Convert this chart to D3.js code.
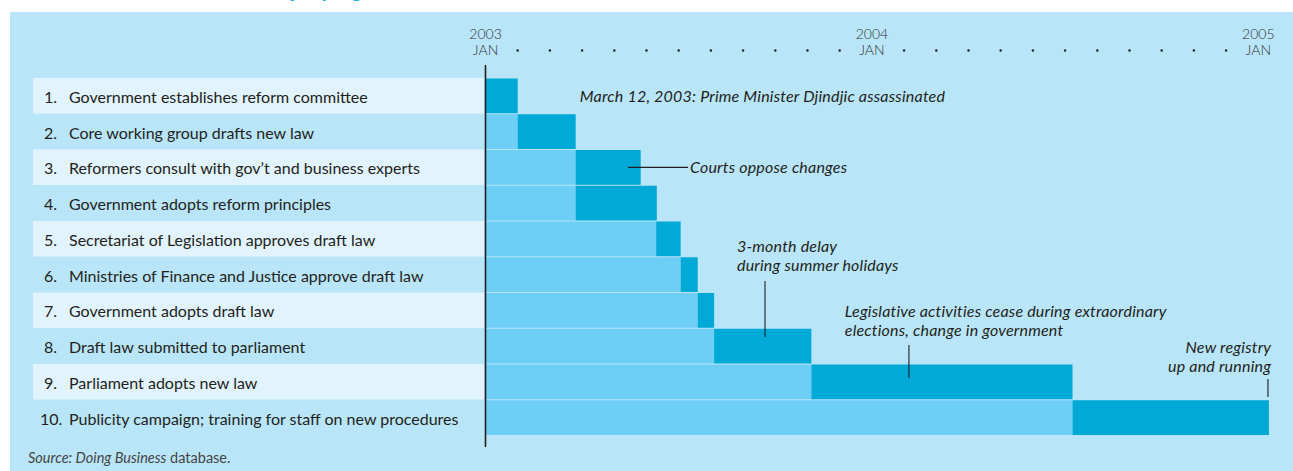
<!DOCTYPE html>
<meta charset="utf-8">
<head>
<script src="https://cdnjs.cloudflare.com/ajax/libs/d3/7.8.5/d3.min.js"></script>
<style>
  html, body { margin: 0; padding: 0; background: #fff; }
  svg { display: block; }
  text { font-family: Lato, "Open Sans", sans-serif; }
</style>
</head>
<body>
<svg id="chart" width="1293" height="471"></svg>
<script>
// steps of the reform, in order
var steps = [
  "Government establishes reform committee",
  "Core working group drafts new law",
  "Reformers consult with gov\u2019t and business experts",
  "Government adopts reform principles",
  "Secretariat of Legislation approves draft law",
  "Ministries of Finance and Justice approve draft law",
  "Government adopts draft law",
  "Draft law submitted to parliament",
  "Parliament adopts new law",
  "Publicity campaign; training for staff on new procedures"
];
// months since January 2003
var startMonth = [0, 1.0, 2.8, 2.8, 5.3, 6.06, 6.59, 7.1, 10.12, 18.23];
var endMonth   = [1.0, 2.8, 4.82, 5.32, 6.06, 6.59, 7.1, 10.12, 18.23, 24.33];

var yearTicks = [0, 12, 24];
var yearLabels = ["2003", "2004", "2005"];
var monthTicks = d3.range(0, 25);

var notes = [
  ["March 12, 2003: Prime Minister Djindjic assassinated"],
  ["Courts oppose changes"],
  ["3-month delay", "during summer holidays"],
  ["Legislative activities cease during extraordinary", "elections, change in government"],
  ["New registry", "up and running"]
];

var W = 1293, H = 471;
var svg = d3.select("#chart");

var x = d3.scaleLinear().domain([0, 24]).range([485.5, 485.5 + 24 * 32.2]);
var y = d3.scaleBand().domain(d3.range(steps.length)).range([78, 435.5]).paddingInner(0);
var rowH = y.bandwidth();

var bg = "#b9e5f8", pale = "#e1f3fc", light = "#6dcff5", dark = "#00a9d6", ink = "#231f20";

// background
svg.append("rect").attr("x", 10).attr("y", 12).attr("width", W - 10).attr("height", H - 12).attr("fill", bg);

// clipped title at the very top
svg.append("text")
  .attr("x", 262).attr("y", -3)
  .attr("font-size", 24).attr("font-weight", 700).attr("font-style", "italic")
  .attr("fill", "#29a9e0")
  .text("Deploying");

// label panel stripes
svg.selectAll(".stripe").data(d3.range(steps.length)).enter().append("rect")
  .attr("x", 33).attr("width", 484 - 33)
  .attr("y", function(i){ return y(i); })
  .attr("height", rowH)
  .attr("fill", function(i){ return i % 2 == 0 ? pale : bg; });

// step labels
var labels = svg.selectAll(".lab").data(steps).enter().append("g")
  .attr("transform", function(d, i){ return "translate(0," + (y(i) + rowH / 2 + 7) + ")"; });
labels.append("text")
  .attr("x", function(d, i){ return i < 9 ? 44 : 40; })
  .attr("font-size", 16).attr("fill", ink)
  .text(function(d, i){ return (i + 1) + "."; });
labels.append("text")
  .attr("x", 69)
  .attr("font-size", 16).attr("fill", ink)
  .text(function(d){ return d; });

// waiting (light) part of each bar
svg.selectAll(".wait").data(steps).enter().append("rect")
  .attr("x", x(0))
  .attr("y", function(d, i){ return y(i) + 0.5; })
  .attr("width", function(d, i){ return x(startMonth[i]) - x(0); })
  .attr("height", rowH - 1)
  .attr("fill", light);

// active (dark) part
svg.selectAll(".act").data(steps).enter().append("rect")
  .attr("x", function(d, i){ return x(startMonth[i]); })
  .attr("y", function(d, i){ return y(i) + 0.5; })
  .attr("width", function(d, i){ return x(endMonth[i]) - x(startMonth[i]); })
  .attr("height", rowH - 1)
  .attr("fill", dark);

// time axis: year labels and monthly dots
var yl = svg.selectAll(".yl").data(yearTicks).enter().append("g")
  .attr("transform", function(d){ return "translate(" + x(d) + ",0)"; });
yl.append("text").attr("y", 39).attr("text-anchor", "middle")
  .attr("font-size", 14).attr("font-weight", 300).attr("fill", "#333")
  .text(function(d, i){ return yearLabels[i]; });
yl.append("text").attr("y", 55).attr("text-anchor", "middle")
  .attr("font-size", 14).attr("font-weight", 300).attr("fill", "#333")
  .text("JAN");

svg.selectAll(".dot").data(monthTicks.filter(function(m){ return m % 12 != 0; })).enter().append("circle")
  .attr("cx", function(d){ return x(d); }).attr("cy", 50.5).attr("r", 1.2)
  .attr("fill", ink);

svg.append("line")
  .attr("x1", x(0)).attr("x2", x(0)).attr("y1", 65).attr("y2", 447)
  .attr("stroke", ink).attr("stroke-width", 1.6);

// annotations
function note(lines, px, py, anchor) {
  var t = svg.append("text").attr("x", px).attr("y", py)
    .attr("font-size", 16).attr("font-style", "italic").attr("fill", ink)
    .attr("letter-spacing", 0.2)
    .attr("text-anchor", anchor || "start");
  lines.forEach(function(s, k){
    t.append("tspan").attr("x", px).attr("dy", k == 0 ? 0 : 19).text(s);
  });
}
function leader(x1, y1, x2, y2) {
  svg.append("line").attr("x1", x1).attr("y1", y1).attr("x2", x2).attr("y2", y2)
    .attr("stroke", ink).attr("stroke-width", 1.1);
}

note(notes[0], x(2.93), y(0) + rowH / 2 + 6);
leader(x(4.43), y(2) + rowH / 2, x(6.29), y(2) + rowH / 2);
note(notes[1], x(6.35), y(2) + rowH / 2 + 5.5);
note(notes[2], x(7.81), 252);
leader(x(8.68), 281, x(8.68), 337);
note(notes[3], x(11.16), 317);
leader(x(13.15), 345, x(13.15), 378);
note(notes[4], x(24.4), 353, "end");
leader(x(24.3), 379, x(24.3), 397);

// source
var src = svg.append("text").attr("x", 28).attr("y", 463)
  .attr("font-size", 14.5).attr("fill", "#444");
src.append("tspan").attr("font-style", "italic").text("Source: Doing Business");
src.append("tspan").text(" database.");
</script>
</body>
